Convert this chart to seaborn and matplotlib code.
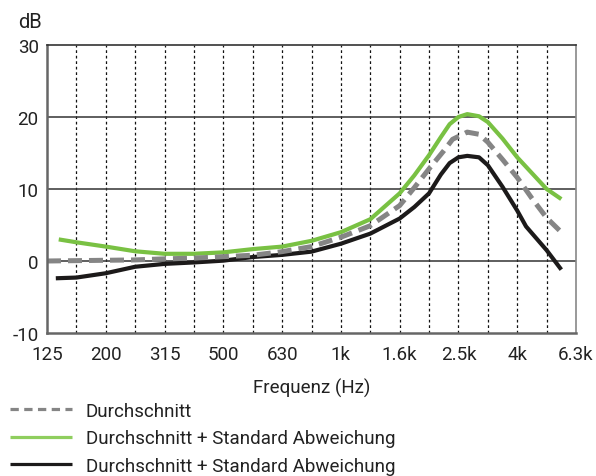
import numpy as np
import pandas as pd
import matplotlib
matplotlib.use('Agg')
import matplotlib.pyplot as plt
import seaborn as sns

# x positions are steps on the third-octave grid (18 steps, label on every 2nd line)
freq_labels = ['125', '200', '315', '500', '630', '1k', '1.6k', '2.5k', '4k', '6.3k']
y_ticks = [-10, 0, 10, 20, 30]
y_labels = ['-10', '0', '10', '20', '30']

mean_x = [0, 1, 2, 3, 4, 5, 6, 7, 8, 9, 10, 11, 12, 12.5, 13, 13.5, 13.8, 14.3, 14.7,
          15, 15.5, 16, 16.5, 17, 17.5]
mean_y = [0.0, 0.05, 0.1, 0.15, 0.3, 0.4, 0.6, 0.8, 1.3, 2.0, 3.3, 4.9, 7.7, 10.2, 12.8,
          15.3, 16.9, 17.9, 17.6, 16.5, 14.1, 11.6, 8.7, 6.0, 4.0]

plus_x = [0.4, 1, 2, 3, 4, 5, 6, 7, 8, 9, 10, 11, 12, 12.5, 13, 13.4, 13.7, 14, 14.3,
          14.7, 15, 15.5, 16, 16.5, 17, 17.5]
plus_y = [3.0, 2.6, 2.0, 1.35, 1.0, 1.0, 1.2, 1.65, 2.0, 2.8, 4.0, 5.8, 9.4, 11.9, 14.7,
          17.2, 19.0, 20.0, 20.4, 20.1, 19.3, 17.0, 14.4, 12.2, 10.0, 8.6]

minus_x = [0.3, 1, 2, 3, 4, 5, 6, 7, 8, 9, 10, 11, 12, 12.5, 13, 13.4, 13.7, 14, 14.3,
           14.7, 15, 15.5, 16, 16.3, 17, 17.5]
minus_y = [-2.4, -2.3, -1.7, -0.8, -0.4, -0.2, 0.05, 0.55, 0.85, 1.3, 2.4, 3.8, 5.9, 7.5, 9.4,
           12.0, 13.6, 14.4, 14.6, 14.4, 13.3, 10.3, 7.0, 4.8, 1.5, -1.2]

mean_label = 'Durchschnitt'
std_label = 'Durchschnitt + Standard Abweichung'

sns.set_theme(style='white')
plt.rcParams['font.family'] = ['Roboto', 'DejaVu Sans']
plt.rcParams['axes.unicode_minus'] = False

fig = plt.figure(figsize=(5.96, 4.77), dpi=100)
ax = fig.add_axes([47 / 596, 1 - 334 / 477, 529 / 596, 288 / 477])

green = '#79c143'
grey = '#858585'
black = '#1c1a1a'

sns.lineplot(x=plus_x, y=plus_y, ax=ax, color=green, lw=3.0, label=std_label)
sns.lineplot(x=minus_x, y=minus_y, ax=ax, color=black, lw=3.0, label=std_label)
sns.lineplot(x=mean_x, y=mean_y, ax=ax, color=grey, lw=3.6, label=mean_label)
l_plus, l_minus, l_mean = ax.lines[-3:]
l_mean.set_linestyle((0, (2.8, 1.4)))
l_mean.set_dash_capstyle('butt')
for ln in (l_plus, l_minus):
    ln.set_solid_capstyle('butt')
    ln.set_solid_joinstyle('round')
ax.get_legend().remove()

ax.set_xlim(0, 18)
ax.set_ylim(-10, 30)
ax.set_xticks(range(0, 19, 2))
ax.set_xticklabels(freq_labels)
ax.set_xticks(range(1, 18), minor=True)
ax.set_yticks(y_ticks)
ax.set_yticklabels(y_labels)
ax.tick_params(axis='both', which='both', length=0, labelsize=13.5, colors='#222222')
ax.tick_params(axis='x', pad=9)
ax.tick_params(axis='y', pad=6)

ax.grid(False)
for v in range(1, 18):
    ax.axvline(v, color='#111111', lw=0.9, ls=(0, (2.2, 2.2)), zorder=0.5)
for h in (0, 10, 20):
    ax.axhline(h, color='#333333', lw=1.1, zorder=0.6)

for side in ['left', 'bottom']:
    ax.spines[side].set_color('#666666')
    ax.spines[side].set_linewidth(1.8)
ax.spines['top'].set_color('#333333')
ax.spines['top'].set_linewidth(1.2)
ax.spines['right'].set_color('#888888')
ax.spines['right'].set_linewidth(1.2)

ax.set_xlabel('Frequenz (Hz)', fontsize=13.5, color='#222222', labelpad=10)
ax.set_ylabel('')
fig.text(18 / 596, 1 - 22 / 477, 'dB', fontsize=14.5, color='#222222', va='center', ha='left')

leg = fig.legend([l_mean, l_plus, l_minus], [mean_label, std_label, std_label],
                 loc='upper left', bbox_to_anchor=(10 / 596, 1 - 403 / 477),
                 frameon=False, fontsize=13.5, handlelength=3.3, handletextpad=0.75,
                 labelspacing=0.5, borderpad=0, borderaxespad=0)
for t in leg.get_texts():
    t.set_color('#222222')
leg_lines = leg.get_lines()
for ln in leg_lines:
    ln.set_linewidth(2.3)
leg_lines[0].set_linestyle((0, (2.6, 1.7)))
leg_lines[1].set_color('#8fce5e')

fig.savefig('out.png', dpi=100)
